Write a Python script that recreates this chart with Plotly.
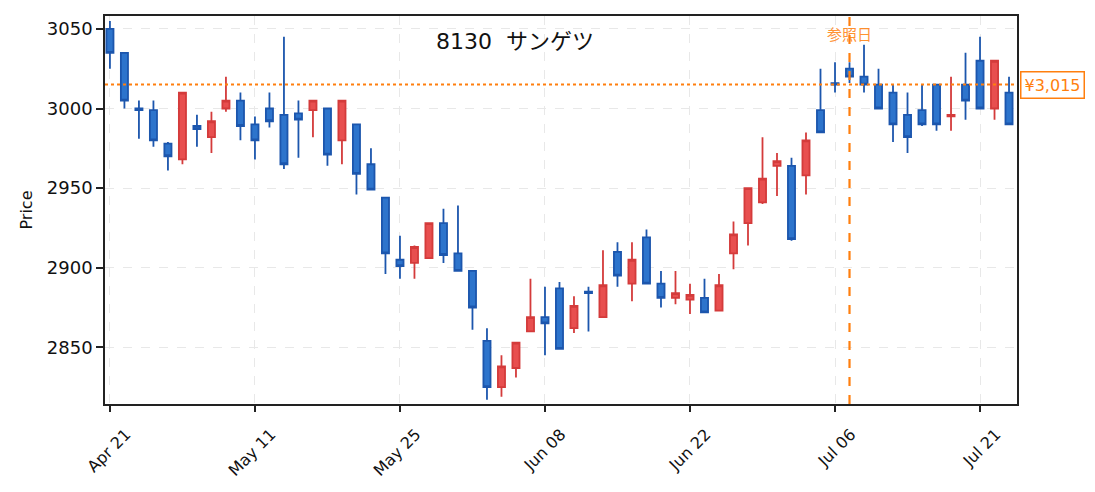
import plotly.graph_objects as go

# ---- data -------------------------------------------------------------
dates = [
    "2026-04-21", "2026-04-22", "2026-04-23", "2026-04-24", "2026-04-27", "2026-04-28", "2026-04-30",
    "2026-05-01", "2026-05-07", "2026-05-08", "2026-05-11", "2026-05-12", "2026-05-13", "2026-05-14",
    "2026-05-15", "2026-05-18", "2026-05-19", "2026-05-20", "2026-05-21", "2026-05-22", "2026-05-25",
    "2026-05-26", "2026-05-27", "2026-05-28", "2026-05-29", "2026-06-01", "2026-06-02", "2026-06-03",
    "2026-06-04", "2026-06-05", "2026-06-08", "2026-06-09", "2026-06-10", "2026-06-11", "2026-06-12",
    "2026-06-15", "2026-06-16", "2026-06-17", "2026-06-18", "2026-06-19", "2026-06-22", "2026-06-23",
    "2026-06-24", "2026-06-25", "2026-06-26", "2026-06-29", "2026-06-30", "2026-07-01", "2026-07-02",
    "2026-07-03", "2026-07-06", "2026-07-07", "2026-07-08", "2026-07-09", "2026-07-10", "2026-07-13",
    "2026-07-14", "2026-07-15", "2026-07-16", "2026-07-17", "2026-07-21", "2026-07-22", "2026-07-23",
]

opens = [3050, 3035, 3000, 2999, 2978, 2968, 2989, 2982, 3000, 3005,
         2990, 3000, 2996, 2997, 2999, 3000, 2980, 2990, 2965, 2944,
         2905, 2903, 2906, 2928, 2909, 2898, 2854, 2825, 2837, 2860,
         2869, 2887, 2862, 2885, 2869, 2910, 2890, 2919, 2890, 2881,
         2880, 2881, 2873, 2909, 2928, 2941, 2964, 2964, 2958, 2999,
         3016, 3025, 3020, 3015, 3010, 2996, 2999, 3015, 2995, 3015,
         3030, 3000, 3010]
highs = [3055, 3035, 3005, 3005, 2979, 3010, 2996, 2998, 3020, 3010,
         2995, 3010, 3045, 3005, 3005, 3000, 3005, 2990, 2975, 2944,
         2920, 2914, 2928, 2937, 2939, 2898, 2862, 2845, 2853, 2893,
         2888, 2891, 2882, 2888, 2911, 2916, 2916, 2924, 2898, 2898,
         2890, 2893, 2896, 2929, 2950, 2982, 2972, 2969, 2985, 3025,
         3029, 3029, 3040, 3025, 3015, 3010, 3015, 3015, 3020, 3035,
         3045, 3030, 3020]
lows = [3025, 3000, 2981, 2976, 2961, 2965, 2976, 2972, 2998, 2980,
        2968, 2988, 2962, 2969, 2982, 2964, 2965, 2946, 2949, 2896,
        2893, 2893, 2906, 2903, 2898, 2861, 2817, 2819, 2831, 2860,
        2845, 2849, 2859, 2860, 2869, 2888, 2879, 2890, 2875, 2877,
        2871, 2872, 2873, 2899, 2914, 2940, 2945, 2917, 2946, 2985,
        3010, 3016, 3010, 3000, 2979, 2972, 2989, 2986, 2986, 2993,
        3000, 2993, 2990]
closes = [3035, 3005, 2999, 2980, 2970, 3010, 2987, 2992, 3005, 2989,
          2980, 2992, 2965, 2993, 3005, 2971, 3005, 2959, 2949, 2909,
          2901, 2913, 2928, 2908, 2898, 2875, 2825, 2838, 2853, 2869,
          2865, 2849, 2876, 2884, 2889, 2895, 2905, 2890, 2881, 2884,
          2883, 2872, 2889, 2921, 2950, 2956, 2967, 2918, 2980, 2985,
          3015, 3020, 3015, 3000, 2990, 2982, 2990, 2990, 2996, 3005,
          3000, 3030, 2990]

tick_idx = [0, 10, 20, 30, 40, 50, 60]
tick_labels = ["Apr 21", "May 11", "May 25", "Jun 08", "Jun 22", "Jul 06", "Jul 21"]

title_text = "8130\u00a0 サンゲツ"
ref_index = 51
ref_label = "参照日"
ref_price = 3015
ref_price_label = "¥3,015"

# ---- styles -----------------------------------------------------------
UP_LINE, UP_FILL = "#d43b3b", "#e84f4f"
DN_LINE, DN_FILL = "#1c56ad", "#2d74cc"
ORANGE = "#ff7f0e"
FONT = "DejaVu Sans, Noto Sans CJK JP, sans-serif"

fig = go.Figure()
fig.add_trace(go.Candlestick(
    x=dates, open=opens, high=highs, low=lows, close=closes,
    increasing=dict(line=dict(color=UP_LINE, width=1.8), fillcolor=UP_FILL),
    decreasing=dict(line=dict(color=DN_LINE, width=1.8), fillcolor=DN_FILL),
    whiskerwidth=0, showlegend=False, hoverinfo="skip",
))

# reference price line (dotted) and reference date line (dashed)
fig.add_shape(type="line", xref="paper", x0=0, x1=1, yref="y", y0=ref_price, y1=ref_price,
              line=dict(color=ORANGE, width=2, dash="dot"), layer="above")
fig.add_shape(type="line", xref="x", x0=dates[ref_index], x1=dates[ref_index], yref="paper", y0=0, y1=1,
              line=dict(color=ORANGE, width=2.2, dash="dash"), layer="above")

fig.add_annotation(x=dates[ref_index], xref="x", y=0.951, yref="paper", text=ref_label,
                   showarrow=False, font=dict(size=15, color=ORANGE, family=FONT),
                   xanchor="center", yanchor="middle", opacity=0.85)
fig.add_annotation(x=1.003, xref="paper", y=ref_price, yref="y", text=ref_price_label,
                   showarrow=False, font=dict(size=16, color=ORANGE, family=FONT),
                   xanchor="left", yanchor="middle", bgcolor="white",
                   bordercolor=ORANGE, borderwidth=1.5, borderpad=3)
fig.add_annotation(x=0.45, xref="paper", y=0.933, yref="paper", text=title_text,
                   showarrow=False, font=dict(size=22, color="#111111", family=FONT),
                   xanchor="center", yanchor="middle")

fig.update_layout(
    width=1087, height=484,
    margin=dict(l=97, r=78, t=6, b=88),
    paper_bgcolor="white", plot_bgcolor="white",
    font=dict(family=FONT, color="#111111"),
    showlegend=False,
    xaxis=dict(
        type="category", range=[-0.34, 62.55], rangeslider=dict(visible=False),
        tickmode="array", tickvals=[dates[i] for i in tick_idx], ticktext=tick_labels,
        tickangle=-45, tickfont=dict(size=16),
        ticklabelshift=16, ticklabelstandoff=7,
        showgrid=True, gridcolor="#e8e8e8", griddash="dash", gridwidth=1.2,
        showline=True, mirror=True, linecolor="#222222", linewidth=1.5,
        ticks="outside", ticklen=6, tickwidth=1.5, tickcolor="#222222",
        zeroline=False,
    ),
    yaxis=dict(
        range=[2814.4, 3058.1],
        tickvals=[2850, 2900, 2950, 3000, 3050],
        tickfont=dict(size=18),
        title=dict(text="Price", font=dict(size=16), standoff=10),
        showgrid=True, gridcolor="#e8e8e8", griddash="dash", gridwidth=1.2,
        showline=True, mirror=True, linecolor="#222222", linewidth=1.5,
        ticks="outside", ticklen=7, tickwidth=1.5, tickcolor="#222222",
        zeroline=False,
    ),
)

fig.write_html("out.html")
